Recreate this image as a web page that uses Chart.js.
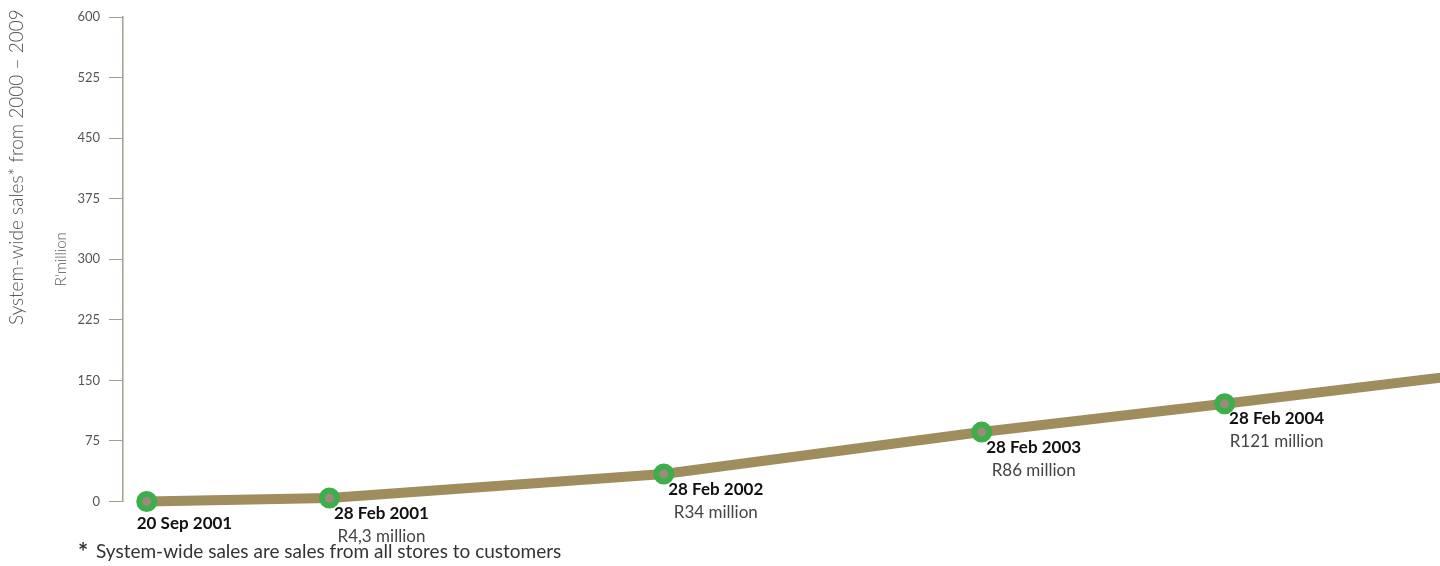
<!DOCTYPE html>
<html>
<head>
<meta charset="utf-8">
<title>System-wide sales</title>
<script src="https://cdn.jsdelivr.net/npm/chart.js@4/dist/chart.umd.min.js"></script>
<style>
  html, body { margin: 0; padding: 0; background: #fff; }
  .wrap { position: relative; width: 1440px; height: 566px; }
</style>
</head>
<body>
<div class="wrap"><canvas id="salesCanvas"></canvas></div>
<script>
// timeline position of each reporting date (not to calendar scale)
const steps = [0.13, 1.13, 2.96, 4.70, 6.03, 8.0];
const dates = ["20 Sep 2001", "28 Feb 2001", "28 Feb 2002", "28 Feb 2003", "28 Feb 2004", "28 Feb 2005"];
const sales = [0, 4.3, 34, 86, 121, 175]; // R'million
const valueLabels = ["", "R4,3 million", "R34 million", "R86 million", "R121 million", ""];
const yTicks = [0, 75, 150, 225, 300, 375, 450, 525, 600];

const FONT = "Lato, 'Open Sans', sans-serif";
const axisColor = "#a89c8e";

// date + value captions under each marker, plus the side title and footnote
const captions = {
  id: "captions",
  afterDatasetsDraw(chart) {
    const ctx = chart.ctx;
    const pts = chart.getDatasetMeta(0).data;
    ctx.save();
    ctx.textBaseline = "middle";
    pts.forEach((p, i) => {
      if (p.x > chart.width - 60) return;
      if (i === 0) {
        ctx.textAlign = "left";
        ctx.fillStyle = "#111";
        ctx.font = "bold 17px " + FONT;
        ctx.fillText(dates[i], p.x - 10, p.y + 22);
        return;
      }
      const cx = p.x + 52;
      ctx.textAlign = "center";
      ctx.fillStyle = "#111";
      ctx.font = "bold 17px " + FONT;
      ctx.fillText(dates[i], cx, p.y + 15);
      ctx.fillStyle = "#444";
      ctx.font = "17px " + FONT;
      ctx.fillText(valueLabels[i], cx, p.y + 38);
    });

    // side title
    ctx.save();
    ctx.translate(17, 325);
    ctx.rotate(-Math.PI / 2);
    ctx.textAlign = "left";
    ctx.fillStyle = "#555";
    ctx.font = "300 19px " + FONT;
    ctx.fillText("System-wide sales* from 2000 \u2013 2009", 0, 0);
    ctx.restore();

    // footnote
    ctx.textAlign = "left";
    ctx.fillStyle = "#333";
    ctx.font = "bold 24px " + FONT;
    ctx.fillText("*", 78, 553);
    ctx.font = "19px " + FONT;
    ctx.fillText("System-wide sales are sales from all stores to customers", 96, 552);
    ctx.restore();
  }
};

new Chart(document.getElementById("salesCanvas"), {
  type: "line",
  data: {
    labels: dates,
    datasets: [
      {
        data: steps.map((s, i) => ({ x: s, y: sales[i] })),
        borderColor: "#a08d5e",
        borderWidth: 10,
        tension: 0,
        pointRadius: 7.5,
        pointHoverRadius: 7.5,
        pointBorderWidth: 6,
        pointBorderColor: "#3dae4a",
        pointBackgroundColor: "#9c8b7b",
        clip: false,
      },
    ],
  },
  options: {
    responsive: true,
    maintainAspectRatio: false,
    animation: false,
    layout: {
      padding: { left: 50, top: 17, right: 0, bottom: 64.5 },
    },
    scales: {
      x: {
        type: "linear",
        display: false,
        min: 0,
        max: 7.135,
      },
      y: {
        min: 0,
        max: 600,
        afterBuildTicks: (scale) => {
          scale.ticks = yTicks.map((v) => ({ value: v }));
        },
        afterFit: (scale) => {
          scale.width = 73;
        },
        ticks: {
          color: "#555",
          padding: 9,
          font: { family: FONT, size: 13 },
        },
        grid: {
          drawOnChartArea: false,
          tickLength: 14,
          color: axisColor,
          lineWidth: 1,
        },
        border: {
          display: true,
          color: axisColor,
          width: 1.5,
        },
        title: {
          display: true,
          text: "R'million",
          color: "#555",
          padding: { top: 2, bottom: 0 },
          font: { family: FONT, size: 15, weight: 300 },
        },
      },
    },
    plugins: {
      legend: { display: false },
      tooltip: { enabled: false },
    },
  },
  plugins: [captions],
});
</script>
</body>
</html>
